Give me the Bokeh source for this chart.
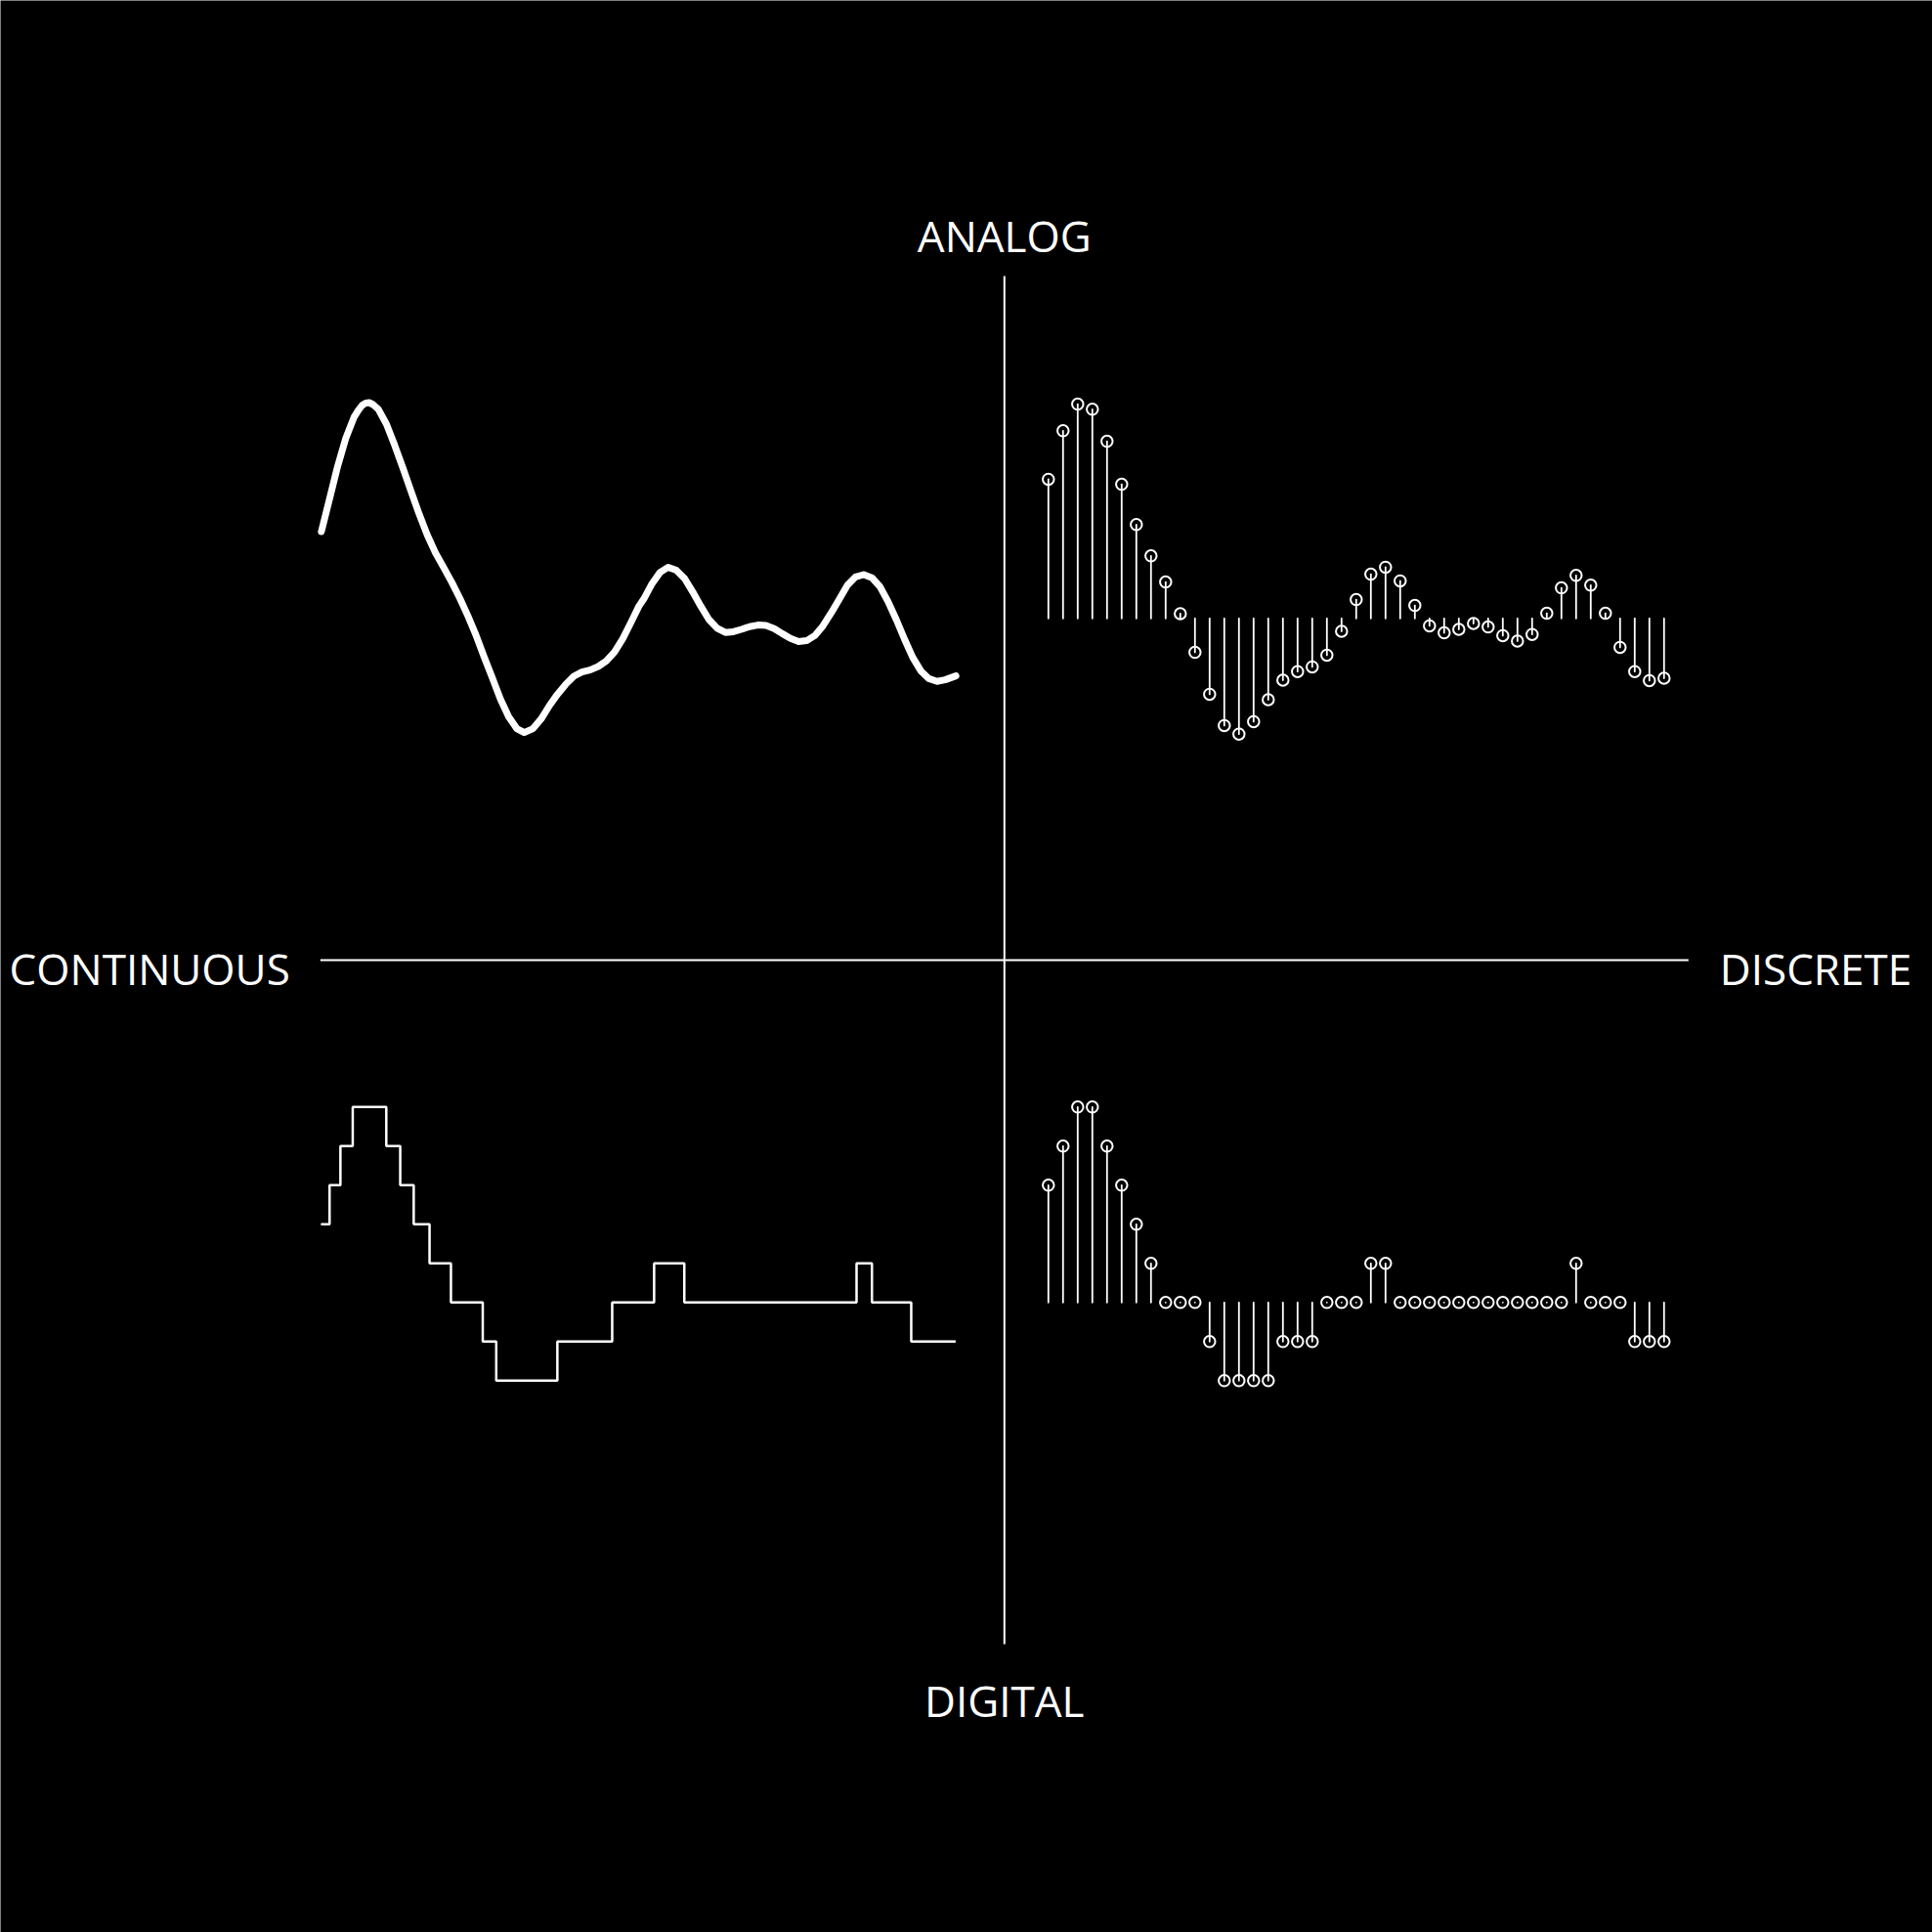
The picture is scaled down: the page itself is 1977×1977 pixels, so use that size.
from bokeh.plotting import figure
from bokeh.models import Range1d
from bokeh.embed import file_html
from bokeh.resources import INLINE
from bokeh.core.properties import value

# ---------------- data ----------------
sample_index = list(range(43))

# sampled analog signal (top right), in quantisation-level units
analog_samples = [3.56, 4.80, 5.48, 5.35, 4.53, 3.43, 2.40, 1.60, 0.93, 0.12,
                  -0.87, -1.94, -2.74, -2.96, -2.64, -2.08, -1.58, -1.36, -1.24, -0.94,
                  -0.33, 0.48, 1.13, 1.31, 0.96, 0.33, -0.19, -0.37, -0.28, -0.13,
                  -0.22, -0.44, -0.58, -0.41, 0.13, 0.78, 1.10, 0.85, 0.13, -0.74,
                  -1.36, -1.59, -1.53]

# quantised samples (bottom right)
digital_samples = [3, 4, 5, 5, 4, 3, 2, 1, 0, 0,
                   0, -1, -2, -2, -2, -2, -1, -1, -1, 0,
                   0, 0, 1, 1, 0, 0, 0, 0, 0, 0,
                   0, 0, 0, 0, 0, 0, 1, 0, 0, 0,
                   -1, -1, -1]

# continuous analog signal (top left): readings along the curve
curve_t = [-0.93, -0.37, 0.18, 0.73, 1.29, 1.60, 1.85, 2.10, 2.33, 2.60, 2.96, 3.51, 4.07,
           4.63, 5.18, 5.73, 6.29, 6.85, 7.40, 7.96, 8.51, 9.07, 9.63,
           10.18, 10.73, 11.29, 11.85, 12.40, 12.91, 13.51, 14.07, 14.63, 15.18,
           15.73, 16.29, 16.85, 17.40, 17.96, 18.51, 19.07, 19.63, 20.18, 20.73,
           21.07, 21.63, 22.18, 22.73, 23.29, 23.85, 24.40, 24.96, 25.51, 26.07,
           26.63, 27.18, 27.73, 28.29, 28.85, 29.40, 29.96, 30.51, 31.07, 31.63,
           32.18, 32.73, 33.29, 33.85, 34.40, 34.96, 35.51, 36.07, 36.63, 37.18,
           37.73, 38.29, 38.85, 39.40, 39.96, 40.51, 41.07, 41.63, 42.36]
curve_v = [2.22, 3.06, 3.89, 4.60, 5.14, 5.33, 5.45, 5.51, 5.52, 5.47, 5.35, 4.97, 4.43,
           3.85, 3.26, 2.68, 2.14, 1.68, 1.31, 0.93, 0.52, 0.06, -0.44,
           -0.99, -1.52, -2.07, -2.52, -2.82, -2.92, -2.82, -2.57, -2.23, -1.94,
           -1.69, -1.48, -1.37, -1.32, -1.23, -1.09, -0.86, -0.52, -0.11, 0.31,
           0.50, 0.89, 1.18, 1.31, 1.23, 1.02, 0.68, 0.31, -0.03, -0.25,
           -0.36, -0.34, -0.28, -0.21, -0.17, -0.18, -0.26, -0.39, -0.51, -0.59,
           -0.57, -0.44, -0.19, 0.14, 0.49, 0.85, 1.06, 1.12, 1.04, 0.81,
           0.43, -0.03, -0.53, -0.99, -1.34, -1.54, -1.61, -1.57, -1.47]

# quantised continuous signal (bottom left): level changes
step_t = [-0.96, -0.37, 0.37, 1.21, 3.50, 4.45, 5.37, 6.45, 7.91, 10.08,
          11.00, 15.17, 18.91, 21.77, 23.83, 35.58, 36.63, 39.31, 42.34]
step_level = [2, 3, 4, 5, 4, 3, 2, 1, 0, -1,
              -2, -1, 0, 1, 0, 1, 0, -1, -1]

axis_labels = ["ANALOG", "DIGITAL", "CONTINUOUS", "DISCRETE"]

# ---------------- layout (screen pixels) ----------------
W = H = 1977
CX, CY, HALF = 1027.3, 982.0, 700.0
LEVEL_PX = 40.0
STEP_PX = 15.0
ANALOG_BASE = 632.3
DIGITAL_BASE = 1332.3
CONT_T0 = 342.3
DISC_T0 = 1072.3
TEXT_SHIFT = -17

p = figure(width=W, height=H, output_backend="svg", toolbar_location=None,
           x_range=Range1d(0, W), y_range=Range1d(H, 0),
           min_border=0, background_fill_color="black",
           border_fill_color="black", outline_line_color=None)
p.xaxis.visible = False
p.yaxis.visible = False
p.grid.visible = False

p.extra_x_ranges = {
    "cont": Range1d(-CONT_T0 / STEP_PX, (W - CONT_T0) / STEP_PX),
    "disc": Range1d(-DISC_T0 / STEP_PX, (W - DISC_T0) / STEP_PX),
}
p.extra_y_ranges = {
    "analog": Range1d((ANALOG_BASE - H) / LEVEL_PX, ANALOG_BASE / LEVEL_PX),
    "digital": Range1d((DIGITAL_BASE - H) / LEVEL_PX, DIGITAL_BASE / LEVEL_PX),
}

WHITE = "#ffffff"

# cross
p.segment(x0=[CX, CX - HALF], y0=[CY - HALF, CY], x1=[CX, CX + HALF], y1=[CY + HALF, CY],
          line_color=WHITE, line_width=2)

# labels
FONT = value("Open Sans")
FS = "44px"
p.text(x=[CX, CX], y=[CY - HALF - 25 + TEXT_SHIFT, CY + HALF + 74 + TEXT_SHIFT],
       text=axis_labels[:2],
       text_align="center", text_baseline="alphabetic", text_color=WHITE,
       text_font=FONT, text_font_size=FS)
p.text(x=[CX - HALF - 31], y=[CY + 25 + TEXT_SHIFT], text=[axis_labels[2]],
       text_align="right", text_baseline="alphabetic", text_color=WHITE,
       text_font=FONT, text_font_size=FS)
p.text(x=[CX + HALF + 32], y=[CY + 25 + TEXT_SHIFT], text=[axis_labels[3]],
       text_align="left", text_baseline="alphabetic", text_color=WHITE,
       text_font=FONT, text_font_size=FS)

# continuous analog
p.line(curve_t, curve_v, x_range_name="cont", y_range_name="analog",
       line_color=WHITE, line_width=7, line_cap="round", line_join="round")

# continuous digital (staircase)
p.step(step_t, step_level, mode="after", x_range_name="cont", y_range_name="digital",
       line_color=WHITE, line_width=2.5)

# discrete analog
zeros = [0] * len(sample_index)
p.segment(x0=sample_index, y0=zeros, x1=sample_index, y1=analog_samples,
          x_range_name="disc", y_range_name="analog",
          line_color=WHITE, line_width=1.8, line_cap="round")
p.scatter(sample_index, analog_samples, x_range_name="disc", y_range_name="analog",
          marker="circle", size=11.5, fill_color=None, line_color=WHITE, line_width=2)

# discrete digital
p.segment(x0=sample_index, y0=zeros, x1=sample_index, y1=digital_samples,
          x_range_name="disc", y_range_name="digital",
          line_color=WHITE, line_width=1.8, line_cap="round")
p.scatter(sample_index, digital_samples, x_range_name="disc", y_range_name="digital",
          marker="circle", size=11.5, fill_color=None, line_color=WHITE, line_width=2)

open("out.html", "w").write(file_html(p, INLINE))
